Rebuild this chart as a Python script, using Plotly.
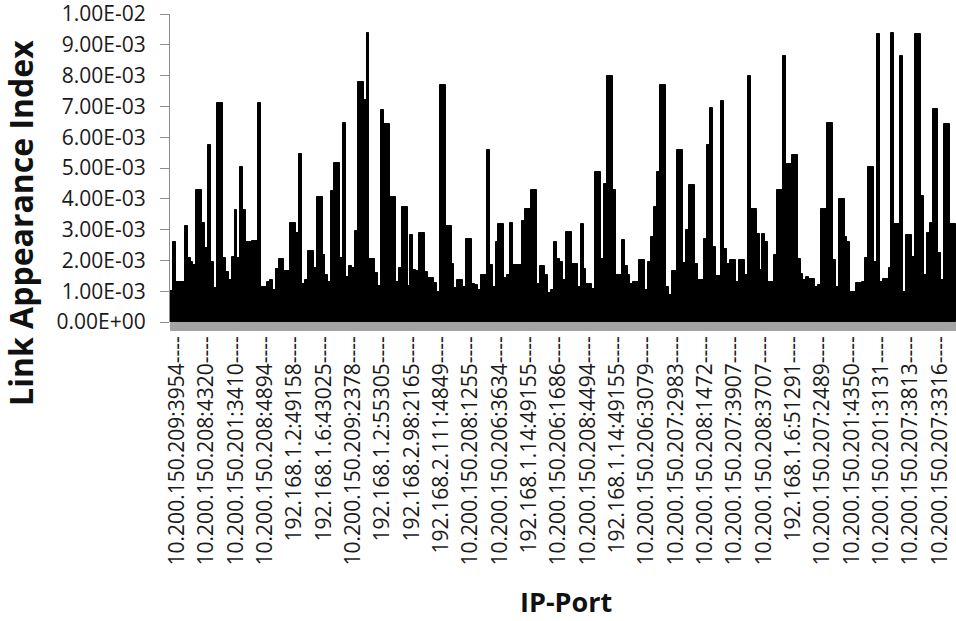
import plotly.graph_objects as go

# Link appearance index per IP-port (values in units of 1e-3)
link_index_e3 = [
    1.02, 2.59, 1.31, 1.31, 1.31, 3.12, 2.07, 1.96, 1.85, 4.29,
    4.29, 3.20, 2.39, 5.75, 1.96, 1.09, 7.12, 7.12, 2.07, 1.63,
    1.36, 2.12, 3.64, 2.07, 5.04, 3.64, 2.59, 2.59, 2.64, 2.64,
    7.12, 1.13, 1.13, 1.30, 1.38, 1.04, 1.71, 2.05, 2.05, 1.66,
    1.66, 3.20, 3.20, 2.88, 5.45, 1.25, 1.36, 2.30, 2.30, 1.75,
    4.05, 4.05, 2.18, 1.53, 1.31, 4.26, 5.15, 5.15, 2.07, 6.47,
    1.47, 1.82, 1.75, 2.94, 7.79, 7.79, 7.21, 9.38, 2.04, 2.04,
    1.59, 1.16, 6.89, 6.44, 6.44, 4.05, 4.05, 1.31, 1.75, 3.75,
    3.75, 1.16, 2.83, 1.70, 1.64, 2.88, 2.88, 1.61, 1.43, 1.43,
    1.26, 0.99, 7.69, 7.69, 3.12, 3.12, 1.89, 1.10, 1.36, 1.35,
    1.14, 2.71, 2.71, 1.24, 1.19, 1.03, 1.52, 1.52, 5.60, 1.84,
    1.14, 2.60, 3.17, 3.17, 1.44, 1.52, 3.23, 1.86, 1.86, 1.86,
    3.28, 3.68, 3.68, 4.27, 4.27, 1.24, 1.82, 1.82, 1.52, 0.95,
    1.03, 2.60, 2.06, 1.95, 1.35, 2.92, 2.92, 1.87, 1.87, 1.14,
    3.17, 1.73, 1.24, 1.24, 1.08, 4.87, 4.87, 2.06, 4.47, 7.98,
    7.98, 4.27, 1.52, 1.52, 2.65, 1.81, 1.52, 1.24, 1.30, 1.30,
    2.00, 2.00, 1.03, 1.95, 2.76, 3.73, 4.87, 7.68, 7.68, 1.14,
    0.87, 1.66, 1.66, 5.60, 5.60, 1.92, 2.98, 4.46, 4.46, 1.89,
    1.35, 1.35, 2.71, 5.74, 6.95, 2.44, 1.48, 1.48, 7.18, 2.38,
    1.89, 2.00, 2.00, 1.30, 2.00, 2.00, 1.52, 7.98, 3.68, 3.68,
    2.87, 1.68, 2.87, 2.60, 1.30, 1.30, 2.16, 4.27, 4.27, 8.63,
    5.14, 5.14, 5.43, 5.43, 2.06, 1.57, 1.35, 1.46, 1.41, 1.41,
    1.14, 1.19, 3.68, 3.68, 6.46, 6.47, 2.01, 1.15, 3.98, 3.98,
    2.77, 2.61, 0.98, 0.98, 1.26, 1.26, 1.31, 2.07, 5.04, 5.04,
    1.96, 9.34, 1.31, 1.39, 1.39, 1.74, 9.39, 3.18, 3.18, 8.64,
    0.98, 2.82, 2.82, 2.12, 9.34, 9.34, 4.09, 1.53, 2.88, 3.20,
    6.90, 6.90, 2.23, 1.36, 6.43, 6.43, 3.18, 3.18,
]

# Visible x tick labels (every 10th IP-port), first one on the 3rd bar
x_tick_labels = [
    "10.200.150.209:3954", "10.200.150.208:4320", "10.200.150.201:3410",
    "10.200.150.208:4894", "192.168.1.2:49158", "192.168.1.6:43025",
    "10.200.150.209:2378", "192.168.1.2:55305", "192.168.2.98:2165",
    "192.168.2.111:4849", "10.200.150.208:1255", "10.200.150.206:3634",
    "192.168.1.14:49155", "10.200.150.206:1686", "10.200.150.208:4494",
    "192.168.1.14:49155", "10.200.150.206:3079", "10.200.150.207:2983",
    "10.200.150.208:1472", "10.200.150.207:3907", "10.200.150.208:3707",
    "192.168.1.6:51291", "10.200.150.207:2489", "10.200.150.201:4350",
    "10.200.150.201:3131", "10.200.150.207:3813", "10.200.150.207:3316",
]
x_label_first = 2
x_label_step = 10

y_tick_values = [0.0, 0.001, 0.002, 0.003, 0.004, 0.005,
                 0.006, 0.007, 0.008, 0.009, 0.01]
y_tick_labels = [
    "0.00E+00", "1.00E-03", "2.00E-03", "3.00E-03", "4.00E-03", "5.00E-03",
    "6.00E-03", "7.00E-03", "8.00E-03", "9.00E-03", "1.00E-02",
]

y_title = "Link Appearance Index"
x_title = "IP-Port"

n = len(link_index_e3)
x_idx = list(range(n))
y_vals = [v * 1e-3 for v in link_index_e3]
tick_pos = [x_label_first + x_label_step * k for k in range(len(x_tick_labels))]
tick_text = [lbl + "----" for lbl in x_tick_labels]

FONT = "Open Sans"
TXT = "#1a1a1a"

fig = go.Figure(
    go.Bar(
        x=x_idx,
        y=y_vals,
        marker=dict(color="#000000", line=dict(color="#000000", width=1)),
        hovertemplate="%{y:.2E}<extra></extra>",
    )
)

fig.update_layout(
    width=956,
    height=621,
    margin=dict(l=170, r=0, t=14, b=299),
    paper_bgcolor="white",
    plot_bgcolor="white",
    bargap=0,
    showlegend=False,
    font=dict(family=FONT, color=TXT),
    shapes=[
        dict(
            type="rect", xref="paper", yref="paper",
            x0=0, x1=1, y0=-9 / 308, y1=0,
            fillcolor="#a3a3a3", line=dict(width=0), layer="below",
        )
    ],
    annotations=[
        dict(
            text="<b>" + y_title + "</b>", textangle=-90,
            xref="paper", yref="paper", x=-173 / 786, y=0.32,
            xanchor="left", yanchor="middle", showarrow=False,
            font=dict(family=FONT, size=32, color="#111111"),
        ),
        dict(
            text="<b>" + x_title + "</b>",
            xref="paper", yref="paper", x=0.504, y=-300 / 308,
            xanchor="center", yanchor="bottom", showarrow=False,
            font=dict(family=FONT, size=27, color="#111111"),
        ),
    ],
)

fig.update_xaxes(
    range=[-0.5, n - 0.5],
    tickmode="array",
    tickvals=tick_pos,
    ticktext=tick_text,
    tickangle=-90,
    ticks="",
    ticklabelstandoff=9,
    tickfont=dict(family=FONT, size=21, color=TXT),
    showgrid=False,
    showline=False,
    zeroline=False,
)

fig.update_yaxes(
    range=[0, 0.01],
    tickmode="array",
    tickvals=y_tick_values,
    ticktext=y_tick_labels,
    ticks="outside",
    ticklen=9,
    tickcolor="#8c8c8c",
    tickwidth=1,
    ticklabelstandoff=10,
    ticklabeloverflow="allow",
    tickfont=dict(family=FONT, size=21, color=TXT),
    showline=True,
    linecolor="#8c8c8c",
    linewidth=1,
    showgrid=False,
    zeroline=False,
)

fig.write_html("out.html")
